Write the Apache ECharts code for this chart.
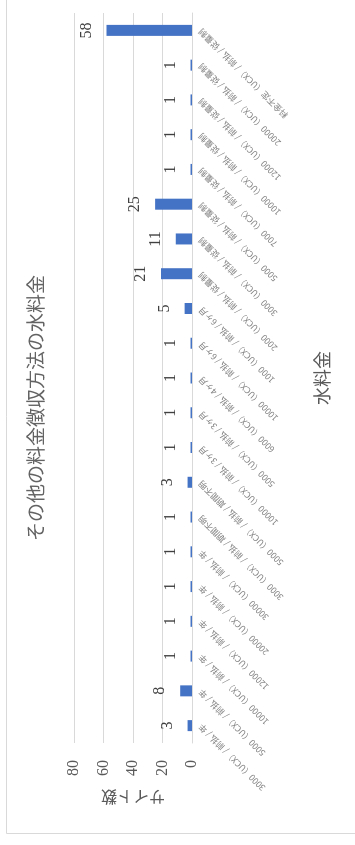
<!DOCTYPE html>
<html>
<head>
<meta charset="utf-8">
<script src="https://cdn.jsdelivr.net/npm/echarts@6/dist/echarts.min.js"></script>
<style>
  html, body { margin: 0; padding: 0; background: #ffffff; overflow: hidden; }
  body { width: 355px; height: 845px; position: relative; }
  /* the column chart is laid out landscape and turned a quarter turn counter-clockwise */
  #chart {
    position: absolute; left: 0; top: 0;
    width: 845px; height: 355px;
    transform-origin: 0 0;
    transform: translateY(845px) rotate(-90deg);
  }
</style>
</head>
<body>
<div id="chart"></div>
<script>
const chartTitle = 'その他の料金徴収方法の水料金';
const categoryAxisName = '水料金';
const valueAxisName = 'サイト数';

const categories = [
  '3000（UCX）/ 前払 / 年',
  '5000（UCX）/ 前払 / 年',
  '10000（UCX）/ 前払 / 年',
  '12000（UCX）/ 前払 / 年',
  '20000（UCX）/ 前払 / 年',
  '30000（UCX）/ 前払 / 年',
  '3000（UCX）/ 前払 / 期間不明',
  '5000（UCX）/ 前払 / 期間不明',
  '10000（UCX）/ 前払 / 3ヶ月',
  '5000（UCX）/ 前払 / 3ヶ月',
  '6000（UCX）/ 前払 / 4ヶ月',
  '10000（UCX）/ 前払 / 6ヶ月',
  '1000（UCX）/ 前払 / 6ヶ月',
  '2000（UCX）/ 前払 / 従量制',
  '3000（UCX）/ 前払 / 従量制',
  '5000（UCX）/ 前払 / 従量制',
  '7000（UCX）/ 前払 / 従量制',
  '10000（UCX）/ 前払 / 従量制',
  '12000（UCX）/ 前払 / 従量制',
  '20000（UCX）/ 前払 / 従量制',
  '料金不定（UCX）/ 前払 / 従量制'
];

const siteCounts = [3, 8, 1, 1, 1, 1, 1, 3, 1, 1, 1, 1, 5, 21, 11, 25, 1, 1, 1, 1, 58];

const valueMin = 0;
const valueMax = 80;
const valueStep = 20;

const chart = echarts.init(document.getElementById('chart'), null, { renderer: 'canvas' });

const serif = '"Liberation Serif", "DejaVu Serif", serif';
const cjk = '"Noto Sans CJK JP", "Noto Sans", sans-serif';

chart.setOption({
  backgroundColor: '#ffffff',
  animation: false,
  title: {
    text: chartTitle,
    left: 432,
    top: 21,
    textAlign: 'center',
    textStyle: { fontFamily: cjk, fontSize: 19, fontWeight: 'normal', color: '#636363' }
  },
  graphic: [{
    type: 'rect',
    shape: { x: 11.5, y: 6.5, width: 860, height: 370 },
    style: { fill: 'none', stroke: '#d9d9d9', lineWidth: 1 },
    silent: true
  }],
  grid: { left: 102, top: 74, width: 730, height: 118 },
  xAxis: {
    type: 'category',
    data: categories,
    name: categoryAxisName,
    nameLocation: 'middle',
    nameGap: 121,
    nameTextStyle: { fontFamily: cjk, fontSize: 18, color: '#595959' },
    axisLine: { show: true, lineStyle: { color: '#d9d9d9', width: 1 } },
    axisTick: { show: false },
    axisLabel: {
      interval: 0,
      rotate: 45,
      margin: 8,
      fontFamily: cjk,
      fontSize: 8.5,
      color: '#808080'
    }
  },
  yAxis: {
    type: 'value',
    min: valueMin,
    max: valueMax,
    interval: valueStep,
    name: valueAxisName,
    nameLocation: 'middle',
    nameRotate: 90,
    nameGap: 46,
    nameTextStyle: { fontFamily: cjk, fontSize: 16, color: '#595959' },
    axisLine: { show: false },
    axisTick: { show: false },
    axisLabel: { margin: 17, fontFamily: serif, fontSize: 16, color: '#595959' },
    splitLine: { show: true, lineStyle: { color: '#d9d9d9', width: 1 } }
  },
  series: [{
    type: 'bar',
    data: siteCounts,
    barWidth: 11,
    itemStyle: { color: '#4472c4' },
    label: {
      show: true,
      position: 'top',
      distance: 12,
      fontFamily: serif,
      fontSize: 16,
      color: '#404040'
    }
  }]
});
</script>
</body>
</html>
